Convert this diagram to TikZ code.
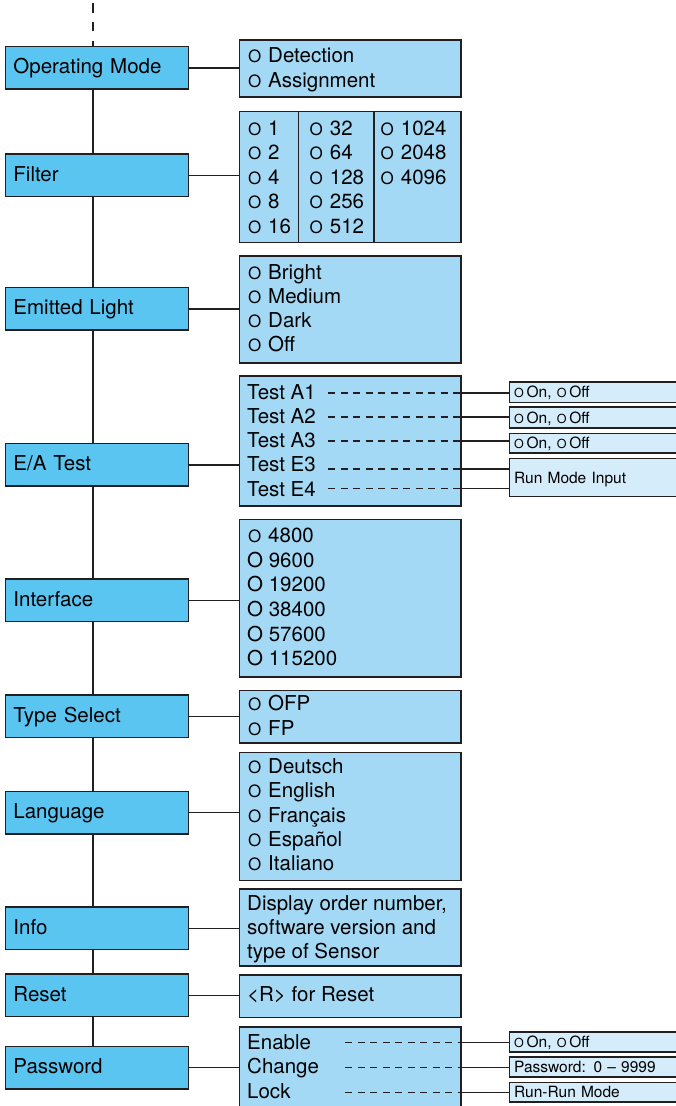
\documentclass[tikz,border=0pt]{standalone}
\usepackage{fontspec}
\setmainfont{TeX Gyre Heros}
\definecolor{lblue}{HTML}{5BC5F1}
\definecolor{rblue}{HTML}{A4D9F5}
\definecolor{sblue}{HTML}{D5ECFA}
\definecolor{bcol}{HTML}{231F20}
\newcommand\bigf{\fontsize{20.5}{24.5}\selectfont}
\newcommand\smallf{\fontsize{15.5}{18}\selectfont}
\newcommand\opt{\hspace{0.8pt}{\fontsize{17}{17}\selectfont O}\hspace{7pt}}
\newcommand\sopt{{\fontsize{12.5}{12}\selectfont O}\hspace{2.8pt}}
\newcommand\rows[5]{\foreach [count=\i] \t in {#5} \node[txt] (#1-\i) at (#2, {#3+(\i-1)*#4}) {\t};}
\begin{document}
\begin{tikzpicture}[x=1pt,y=-1pt,
  lbox/.style={draw=bcol, line width=1.5pt, fill=lblue, anchor=west, text width=167pt,
    inner xsep=8.2pt, inner ysep=0pt, minimum height=42.5pt, align=left,
    text height=15pt, text depth=2.5pt, font=\bigf},
  rbox/.style={draw=bcol, line width=1.5pt, fill=rblue, anchor=north west,
    minimum width=221.3pt, inner sep=0pt},
  sbox/.style={draw=bcol, line width=1.3pt, fill=sblue, anchor=west, text width=190pt,
    inner xsep=5pt, inner ysep=0pt, align=left, font=\smallf, text height=11.1pt, text depth=0pt},
  txt/.style={anchor=base west, inner sep=0pt, font=\bigf},
  conn/.style={draw=bcol, line width=1.6pt},
  dline/.style={draw=bcol, line width=1.6pt, dash pattern=on 7pt off 5.5pt},
  topdash/.style={draw=bcol, line width=1.6pt, dash pattern=on 9.3pt off 9.4pt, dash phase=15.4pt}]
\useasboundingbox (0,0) rectangle (676,1106);
\clip (0,0) rectangle (676,1106);

% left column
\node[lbox] (l-om) at (4.5,67.7) {Operating Mode};
\node[lbox] (l-fi) at (4.5,175.4) {Filter};
\node[lbox] (l-em) at (4.5,308.7) {Emitted Light};
\node[lbox] (l-ea) at (4.5,464.7) {E/A Test};
\node[lbox] (l-if) at (4.5,600.3) {Interface};
\node[lbox] (l-ts) at (4.5,716.3) {Type Select};
\node[lbox] (l-lg) at (4.5,812.5) {Language};
\node[lbox] (l-in) at (4.5,928.3) {Info};
\node[lbox] (l-rs) at (4.5,995.4) {Reset};
\node[lbox] (l-pw) at (4.5,1067.5) {Password};

% right boxes
\node[rbox, minimum height=57pt] (r-om) at (238.7,39) {};
\node[rbox, minimum height=131.3pt] (r-fi) at (238.7,110.5) {};
\node[rbox, minimum height=107pt] (r-em) at (238.7,255.2) {};
\node[rbox, minimum height=130pt] (r-ea) at (238.7,375.2) {};
\node[rbox, minimum height=157.4pt] (r-if) at (238.7,518.8) {};
\node[rbox, minimum height=52.7pt] (r-ts) at (238.7,689.5) {};
\node[rbox, minimum height=128pt] (r-lg) at (238.7,751.5) {};
\node[rbox, minimum height=77pt] (r-in) at (238.7,888.2) {};
\node[rbox, minimum height=42.6pt] (r-rs) at (238.7,974.2) {};
\node[rbox, minimum height=90pt] (r-pw) at (238.7,1026.2) {};

% filter dividers
\coordinate (d1) at (298.7,0);
\coordinate (d2) at (374,0);
\draw[line width=1.5pt,bcol] (d1 |- r-fi.north) -- (d1 |- r-fi.south);
\draw[line width=1.5pt,bcol] (d2 |- r-fi.north) -- (d2 |- r-fi.south);

% texts
\rows{om}{247}{62.7}{24.4}{{\opt Detection},{\opt Assignment}}
\rows{fa}{247}{135}{24.5}{{\opt 1},{\opt 2},{\opt 4},{\opt 8},{\opt 16}}
\rows{fb}{308.7}{135}{24.5}{{\opt 32},{\opt 64},{\opt 128},{\opt 256},{\opt 512}}
\rows{fc}{379.7}{135}{24.5}{{\opt 1024},{\opt 2048},{\opt 4096}}
\rows{em}{247}{279.3}{24.1}{{\opt Bright},{\opt Medium},{\opt Dark},{\opt Off}}
\rows{ea}{247}{399.3}{24.2}{Test A1,Test A2,Test A3,Test E3,Test E4}
\rows{if}{247}{542.7}{24.6}{{\opt 4800},O 9600,O 19200,O 38400,O 57600,O 115200}
\rows{ts}{247}{710}{25}{{\opt OFP},{\opt FP}}
\rows{lg}{247}{773.3}{24.35}{{\opt Deutsch},{\opt English},{\opt Français},{\opt Español},{\opt Italiano}}
\rows{inf}{247}{910.7}{24}{{Display order number,},software version and,type of Sensor}
\node[txt] (rs-1) at (247,1001.7) {<R> for Reset};
\rows{pw}{247}{1049.3}{24.5}{Enable,Change,Lock}

% trunk
\coordinate (tx) at (93,0);
\draw[topdash] (tx) -- (tx |- l-om.north);
\foreach \a/\b in {om/fi,fi/em,em/ea,ea/if,if/ts,ts/lg,lg/in,in/rs,rs/pw}
  \draw[conn] (tx |- l-\a.south) -- (tx |- l-\b.north);

% horizontal connectors
\foreach \n in {om,fi,em,ea,if,ts,lg,in,rs,pw}
  \draw[conn] (l-\n.east) -- (l-\n.east -| r-\n.west);

% small boxes
\node[sbox, minimum height=20.4pt] (s-a1) at (508.5,392.2) {\sopt On, \sopt Off};
\node[sbox, minimum height=21pt] (s-a2) at (508.5,417.5) {\sopt On, \sopt Off};
\node[sbox, minimum height=19.5pt] (s-a3) at (508.5,443.3) {\sopt On, \sopt Off};
\node[sbox, minimum height=38pt] (s-rm) at (508.5,477.5) {Run Mode Input};
\node[sbox, minimum height=20pt] (s-en) at (508.5,1042) {\sopt On, \sopt Off};
\node[sbox, minimum height=20pt] (s-pw) at (508.5,1067) {Password: 0 -- 9999};
\node[sbox, minimum height=19.5pt] (s-rr) at (508.5,1092.3) {Run-Run Mode};

% dashed + solid leaders
\foreach \nm/\y/\t in {a1/392.7/s-a1, a2/416.7/s-a2, a3/441.2/s-a3, e3/468.7/s-rm, e4/488.3/s-rm}{
  \coordinate (q-\nm) at (328.3,\y);
  \draw[dline] (q-\nm) -- (q-\nm -| r-ea.east);
  \draw[conn] (q-\nm -| r-ea.east) -- (q-\nm -| \t.west);
}
\foreach \nm/\y/\t in {en/1042.5/s-en, ch/1067.5/s-pw, lk/1092.3/s-rr}{
  \coordinate (q-\nm) at (345,\y);
  \draw[dline] (q-\nm) -- (q-\nm -| r-pw.east);
  \draw[conn] (q-\nm -| r-pw.east) -- (q-\nm -| \t.west);
}
\end{tikzpicture}
\end{document}
